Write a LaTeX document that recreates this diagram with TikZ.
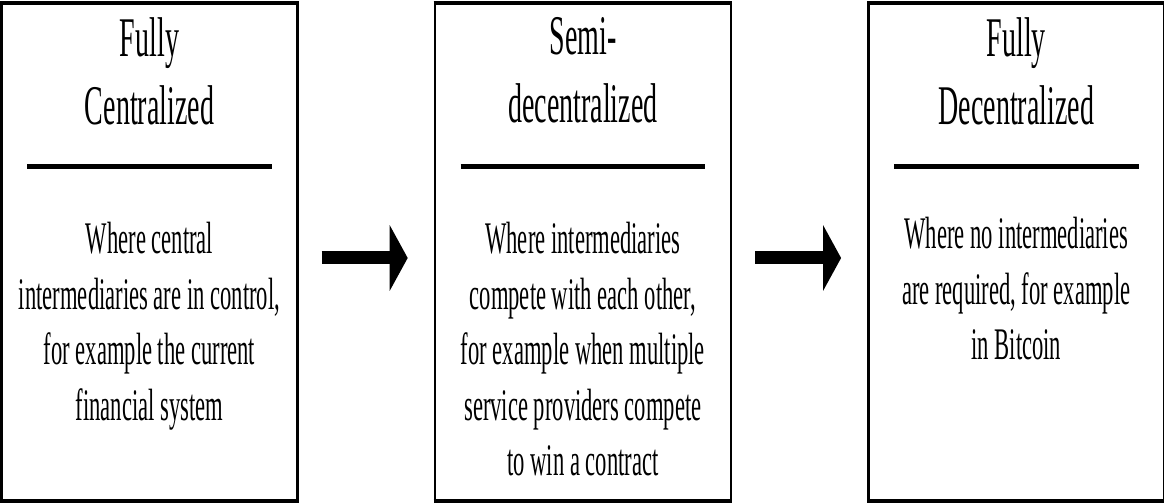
\documentclass[tikz,border=0pt]{standalone}
\usepackage{fontspec}
\setmainfont{Liberation Serif}[FakeStretch=0.5]
\usepackage{tikz}
\usetikzlibrary{positioning}
\usetikzlibrary{arrows.meta}

\begin{document}
\begin{tikzpicture}[
    panel/.style={draw, line width=1.2pt, minimum width=148pt, minimum height=248pt, inner sep=0pt},
    heading/.style={align=center, inner sep=0pt, font=\fontsize{28}{34}\selectfont},
    body/.style={align=center, inner sep=0pt, font=\fontsize{22.6}{27.8}\selectfont},
    rule/.style={line width=2.5pt},
    bigarrow/.style={line width=6.5pt, -{Triangle[length=9pt,width=32.5pt]}}
  ]
  \useasboundingbox (0,0) rectangle (582pt,252pt);
  % the three stages
  \node[panel] (central) at (74.75pt,126pt) {};
  \node[panel, right=67.5pt of central] (semi) {};
  \node[panel, right=67.5pt of semi] (decentral) {};
  \foreach \p in {central,semi,decentral}
    \draw[line width=2pt] (\p.north west) -- (\p.north east) (\p.south west) -- (\p.south east);

  \node[heading, below=7pt of central.north] (centralhead) {Fully\\Centralized};
  \node[heading, below=7pt of semi.north] (semihead) {Semi-\\decentralized};
  \node[heading, below=7pt of decentral.north] (decentralhead) {Fully\\Decentralized};

  \draw[rule] ([xshift=13.5pt,yshift=-82pt]central.north west) -- ([xshift=-13.5pt,yshift=-82pt]central.north east);
  \draw[rule] ([xshift=13.5pt,yshift=-82pt]semi.north west) -- ([xshift=-13.5pt,yshift=-82pt]semi.north east);
  \draw[rule] ([xshift=13.5pt,yshift=-82pt]decentral.north west) -- ([xshift=-13.5pt,yshift=-82pt]decentral.north east);

  \node[body, below=109.5pt of central.north] (centraltext)
    {Where central\\intermediaries are in control,\\for example the current\\financial system};
  \node[body, below=109.5pt of semi.north] (semitext)
    {Where intermediaries\\compete with each other,\\for example when multiple\\service providers compete\\to win a contract};
  \node[body, below=107pt of decentral.north] (decentraltext)
    {Where no intermediaries\\are required, for example\\in Bitcoin};

  % arrows between stages
  \draw[bigarrow] ([xshift=11.5pt,yshift=-3pt]central.east) -- ([xshift=-13pt,yshift=-3pt]semi.west);
  \draw[bigarrow] ([xshift=11.5pt,yshift=-3pt]semi.east) -- ([xshift=-13pt,yshift=-3pt]decentral.west);
\end{tikzpicture}
\end{document}
